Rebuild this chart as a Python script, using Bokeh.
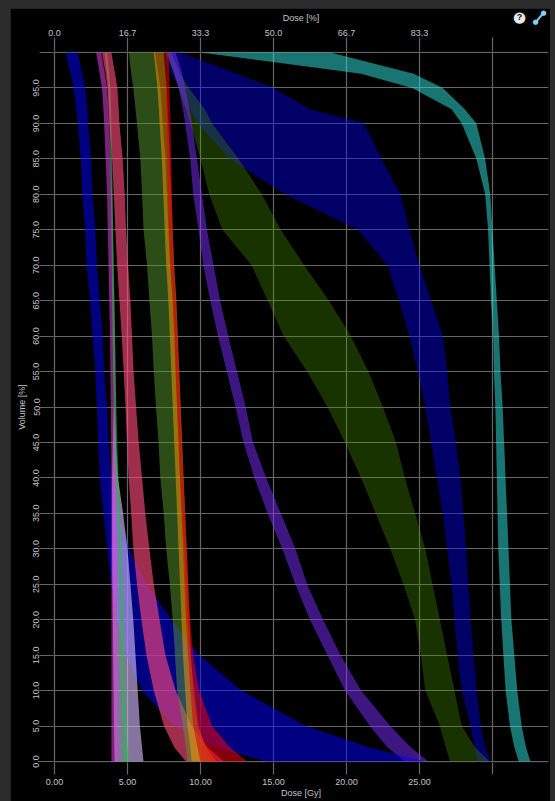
from bokeh.plotting import figure
from bokeh.models import Range1d, LinearAxis, FixedTicker, CustomJSTickFormatter
from bokeh.core.properties import value
from bokeh.embed import file_html
from bokeh.resources import INLINE

# ---------------- data (dose in Gy for each volume level, min / max of each band) -------------
VOL = [100, 97, 95, 92, 90, 85, 80, 75, 70, 65, 60, 55, 50, 45, 40, 35, 30, 25, 20, 15, 10, 5, 2, 0]
VOL_LOW = [50, 45, 40, 35, 30, 25, 20, 15, 10, 5, 2, 0]

BB_LO = [7.6, 8.0, 8.6, 9.3, 9.8, 12.0, 15.8, 20.8, 22.8, 23.6, 24.3, 24.9, 25.4, 25.8, 26.2, 26.6, 26.9, 27.2, 27.4, 27.6, 27.9, 28.5, 28.8, 29.0]
BB_HI = [8.6, 12.5, 15.0, 17.5, 21.2, 22.4, 23.7, 24.3, 25.0, 25.8, 26.6, 26.9, 27.1, 27.5, 27.8, 28.0, 28.2, 28.35, 28.5, 28.7, 28.9, 29.2, 29.5, 29.9]

CY_LO = [10.0, 21.0, 24.5, 27.2, 27.9, 28.9, 29.5, 29.7, 29.8, 29.9, 30.05, 30.1, 30.2, 30.25, 30.3, 30.35, 30.4, 30.5, 30.6, 30.75, 30.9, 31.2, 31.5, 31.8]
CY_HI = [18.9, 24.6, 26.6, 28.1, 28.9, 29.5, 29.85, 30.0, 30.15, 30.3, 30.45, 30.55, 30.7, 30.8, 30.9, 31.0, 31.1, 31.2, 31.3, 31.5, 31.7, 32.0, 32.3, 32.6]

GG_LO = [7.6, 8.2, 8.5, 9.0, 9.3, 10.0, 10.6, 11.5, 13.5, 14.6, 15.7, 17.3, 18.7, 19.9, 21.0, 22.0, 23.0, 23.9, 24.7, 25.1, 25.4, 26.4, 26.8, 27.1]
GG_HI = [8.0, 8.6, 9.2, 10.3, 10.8, 12.6, 14.2, 15.5, 17.1, 18.8, 20.3, 21.5, 22.5, 23.4, 24.0, 24.7, 25.4, 25.9, 26.4, 26.9, 27.4, 27.9, 28.8, 29.8]

PU_LO = [7.7, 8.2, 8.5, 8.8, 8.95, 9.3, 9.5, 9.87, 10.2, 10.67, 11.2, 11.8, 12.4, 12.95, 13.7, 14.6, 15.6, 16.5, 17.5, 18.7, 19.9, 21.6, 22.8, 24.0]
PU_HI = [8.3, 8.75, 8.95, 9.25, 9.4, 9.76, 10.1, 10.44, 10.9, 11.35, 11.9, 12.5, 13.1, 13.6, 14.5, 15.5, 16.5, 17.3, 18.4, 19.6, 21.0, 23.0, 24.4, 25.6]

A_LO = [0.75, 1.1, 1.3, 1.5, 1.6, 1.8, 1.9, 2.1, 2.2, 2.45, 2.6, 2.8, 2.9, 3.0, 3.1, 3.35, 3.6, 3.9, 4.3, 4.9, 6.0, 8.2, 11.0, 14.5]
A_HI = [1.6, 1.9, 2.1, 2.25, 2.3, 2.5, 2.6, 2.8, 2.9, 3.1, 3.3, 3.4, 3.6, 3.7, 3.9, 4.4, 5.1, 6.3, 8.0, 9.9, 12.8, 17.2, 21.5, 25.4]

M_LO = [2.85, 3.1, 3.25, 3.35, 3.4, 3.5, 3.6, 3.65, 3.7, 3.75, 3.8, 3.83, 3.86, 3.88, 3.9, 3.9, 3.9, 3.9, 3.9, 3.9, 3.9, 3.9, 3.9, 3.9]
M_HI = [3.2, 3.45, 3.6, 3.7, 3.75, 3.85, 3.95, 4.0, 4.05, 4.1, 4.15, 4.18, 4.2, 4.22, 4.24, 4.25, 4.25, 4.26, 4.27, 4.28, 4.3, 4.3, 4.32, 4.35]

L_LO = [4.05, 4.0, 3.95, 3.95, 3.95, 3.97, 4.0, 4.02, 4.05, 4.08, 4.1, 4.12]
L_HI = [4.1, 4.2, 4.35, 4.7, 5.0, 5.2, 5.4, 5.55, 5.7, 5.85, 6.0, 6.1]

G1_LO = [3.45, 3.6, 3.68, 3.75, 3.78, 3.83, 3.86, 3.9, 3.92, 3.95, 3.98, 4.02, 4.07, 4.12, 4.2, 4.3, 4.4, 4.45, 4.5, 4.55, 4.6, 4.65, 4.7, 4.75]
G1_HI = [3.6, 3.75, 3.82, 3.88, 3.9, 3.95, 3.98, 4.02, 4.05, 4.1, 4.14, 4.18, 4.24, 4.3, 4.38, 4.48, 4.6, 4.66, 4.72, 4.78, 4.85, 4.92, 5.0, 5.1]

R_LO = [3.25, 3.5, 3.63, 3.7, 3.76, 3.95, 4.06, 4.17, 4.29, 4.45, 4.6, 4.74, 4.86, 4.97, 5.08, 5.25, 5.4, 5.65, 5.95, 6.3, 6.8, 7.5, 8.2, 9.0]
R_HI = [3.9, 4.15, 4.31, 4.4, 4.45, 4.67, 4.81, 4.9, 5.04, 5.2, 5.31, 5.42, 5.59, 5.77, 6.0, 6.22, 6.5, 6.8, 7.2, 7.6, 8.3, 9.4, 10.5, 11.6]

GR_LO = [5.1, 5.25, 5.4, 5.55, 5.65, 5.88, 6.0, 6.1, 6.34, 6.5, 6.68, 6.8, 6.95, 7.13, 7.25, 7.48, 7.65, 7.9, 8.1, 8.25, 8.4, 8.8, 9.0, 9.1]
GR_HI = [6.9, 7.1, 7.25, 7.35, 7.41, 7.59, 7.7, 7.8, 7.93, 8.1, 8.25, 8.3, 8.4, 8.5, 8.6, 8.73, 8.9, 9.0, 9.1, 9.3, 9.6, 9.9, 10.3, 10.7]

O_LO = [6.8, 6.95, 7.05, 7.15, 7.2, 7.35, 7.45, 7.55, 7.65, 7.8, 7.9, 8.0, 8.1, 8.2, 8.3, 8.4, 8.5, 8.6, 8.7, 8.8, 8.95, 9.1, 9.3, 9.4]
O_HI = [7.5, 7.6, 7.7, 7.75, 7.8, 7.9, 8.0, 8.1, 8.2, 8.35, 8.45, 8.55, 8.65, 8.75, 8.85, 8.95, 9.05, 9.15, 9.25, 9.35, 9.5, 9.8, 10.4, 11.1]

D_LO = [7.55, 7.6, 7.62, 7.65, 7.68, 7.72, 7.78, 7.85, 7.93, 8.1, 8.2, 8.3, 8.4, 8.5, 8.6, 8.7, 8.8, 8.9, 9.0, 9.15, 9.3, 9.5, 9.8, 10.0]
D_HI = [7.8, 7.85, 7.88, 7.92, 7.95, 8.0, 8.05, 8.1, 8.16, 8.3, 8.42, 8.52, 8.62, 8.72, 8.82, 8.95, 9.07, 9.17, 9.3, 9.5, 9.9, 10.8, 12.0, 13.2]

BANDS = [
    (VOL, BB_LO, BB_HI, "#0000ff", 0.4),
    (VOL, CY_LO, CY_HI, "#30e0d8", 0.52),
    (VOL, GG_LO, GG_HI, "#4c9a00", 0.32),
    (VOL, PU_LO, PU_HI, "#7a2cff", 0.5),
    (VOL, A_LO, A_HI, "#0000ff", 0.5),
    (VOL_LOW, L_LO, L_HI, "#c8b0f0", 0.66),
    (VOL, M_LO, M_HI, "#e040e0", 0.55),
    (VOL, G1_LO, G1_HI, "#20c040", 0.6),
    (VOL, R_LO, R_HI, "#ff4a7a", 0.62),
    (VOL, GR_LO, GR_HI, "#5a9a30", 0.5),
    (VOL, O_LO, O_HI, "#ff9900", 0.5),
    (VOL, D_LO, D_HI, "#e00010", 0.6),
]

DOSE_TICKS = [0, 5, 10, 15, 20, 25, 30]
PCT_TICKS = [0, 100 / 6, 200 / 6, 50, 400 / 6, 500 / 6, 100]
VOL_TICKS = list(range(0, 101, 5))

GRID = "#666666"
TXT = "#c4c4c4"
FONT = "Liberation Sans"

p = figure(width=540, height=793, x_range=Range1d(-0.068, 33.84), y_range=Range1d(-0.14, 100.14),
           output_backend="svg", toolbar_location=None,
           background_fill_color="black", border_fill_color="black",
           min_border_left=43, min_border_right=2, min_border_top=43, min_border_bottom=39)
p.outline_line_color = None
p.extra_x_ranges = {"pct": Range1d(-0.068 / 30 * 100, 33.84 / 30 * 100)}

for vols, lo, hi, col, a in BANDS:
    p.harea(x1=lo, x2=hi, y=vols, fill_color=col, fill_alpha=a)

# grid
p.xgrid.ticker = FixedTicker(ticks=DOSE_TICKS)
p.ygrid.ticker = FixedTicker(ticks=VOL_TICKS)
for g in (p.xgrid, p.ygrid):
    g.grid_line_color = GRID
    g.grid_line_width = 1.2


def style_axis(ax, tick_out, standoff):
    ax.axis_line_color = None
    ax.major_tick_line_color = GRID
    ax.major_tick_line_width = 1.2
    ax.major_tick_out = tick_out
    ax.major_tick_in = 0
    ax.minor_tick_line_color = None
    ax.major_label_text_color = TXT
    ax.major_label_text_font_size = "9px"
    ax.major_label_text_font = FONT
    ax.major_label_standoff = standoff
    ax.axis_label_text_color = TXT
    ax.axis_label_text_font_size = "9px"
    ax.axis_label_text_font = FONT
    ax.axis_label_text_font_style = "normal"


xa = p.xaxis[0]
xa.ticker = FixedTicker(ticks=DOSE_TICKS)
xa.formatter = CustomJSTickFormatter(code="return tick > 29.9 ? '' : tick.toFixed(2);")
xa.axis_label = "Dose [Gy]"
xa.axis_label_standoff = 0
style_axis(xa, 12, 4)

ya = p.yaxis[0]
ya.ticker = FixedTicker(ticks=VOL_TICKS)
ya.formatter = CustomJSTickFormatter(code="return tick > 99.9 ? '' : tick.toFixed(1);")
ya.major_label_orientation = "vertical"
ya.axis_label = "Volume [%]"
ya.axis_label_standoff = 4
style_axis(ya, 14, 0)

top = LinearAxis(x_range_name="pct", ticker=FixedTicker(ticks=PCT_TICKS),
                 formatter=CustomJSTickFormatter(code="return tick > 99.9 ? '' : tick.toFixed(1);"),
                 axis_label="Dose [%]", axis_label_standoff=4)
style_axis(top, 14, 2)
p.add_layout(top, "above")

# help / expand icons (top right corner, drawn on the overlay level so they are not clipped)
icons = [
    p.text(x=[31.85], y=[105.0], text=["\u25cf"], text_font_size="15px", text_color="#e8e8e8",
           text_font=value("DejaVu Sans"), text_align="center", text_baseline="middle"),
    p.text(x=[31.85], y=[105.0], text=["?"], text_font_size="9px", text_color="#111111",
           text_font=value(FONT), text_font_style="bold", text_align="center", text_baseline="middle"),
    p.segment(x0=[32.95], y0=[104.25], x1=[33.5], y1=[105.6], line_color="#86cdf0", line_width=2),
    p.text(x=[32.95, 33.5], y=[104.25, 105.6], text=["\u25cf", "\u25cf"], text_font_size="7px",
           text_color="#86cdf0", text_font=value("DejaVu Sans"), text_align="center",
           text_baseline="middle"),
]
for r in icons:
    r.level = "overlay"

html = file_html(p, INLINE)
html = html.replace("</head>",
                    "<style>html, body {background:#2c2c2c !important;} "
                    "body {padding: 8px 5px 0 10px !important;}</style></head>", 1)
open("out.html", "w").write(html)
